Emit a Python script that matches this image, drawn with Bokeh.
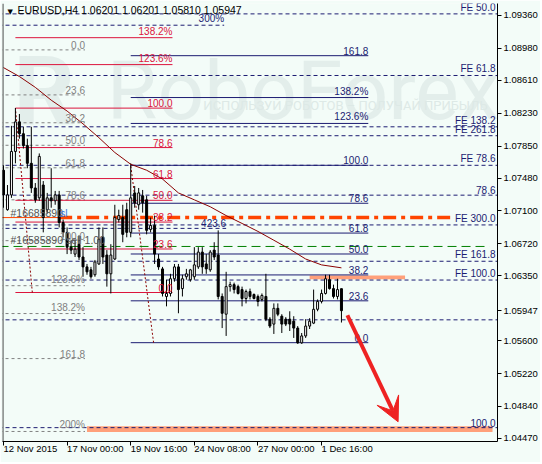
from bokeh.plotting import figure
from bokeh.models import (ColumnDataSource, FixedTicker, NumeralTickFormatter, Range1d,
                          Span, Arrow, VeeHead)
from bokeh.embed import file_html
from bokeh.resources import INLINE
from bokeh.core.properties import value

# ---------------- data ----------------
open_ = [1.07570, 1.07114, 1.07285, 1.07787, 1.08129, 1.07992, 1.07855, 1.07650, 1.07365, 1.07251,
         1.07399, 1.07114, 1.07251, 1.07217, 1.07285, 1.06966, 1.06852, 1.06681, 1.06601, 1.06715,
         1.06567, 1.06453, 1.06419, 1.06362, 1.06487, 1.06795, 1.06590, 1.06373, 1.06544, 1.07000,
         1.07023, 1.07114, 1.06852, 1.07308, 1.07171, 1.07274, 1.07228, 1.06886, 1.06932, 1.06544,
         1.06430, 1.06111, 1.06146, 1.06316, 1.06453, 1.06202, 1.06339, 1.06305, 1.06339, 1.06453,
         1.06624, 1.06487, 1.06419, 1.06647, 1.06590, 1.06111, 1.05906, 1.06225, 1.06248, 1.06225,
         1.06191, 1.06088, 1.06168, 1.06134, 1.06111, 1.06077, 1.06111, 1.05849, 1.05792, 1.05974,
         1.05883, 1.05849, 1.05849, 1.05826, 1.05746, 1.05575, 1.05655, 1.05769, 1.05803, 1.05963,
         1.06054, 1.06146, 1.06305, 1.06202, 1.06111, 1.06201]
high = [1.07627, 1.07399, 1.08083, 1.08288, 1.08220, 1.08072, 1.07935, 1.08072, 1.07422, 1.07764,
        1.07445, 1.07308, 1.07593, 1.07331, 1.07331, 1.07000, 1.06909, 1.06761, 1.06761, 1.06818,
        1.06681, 1.06487, 1.06453, 1.06533, 1.06909, 1.06909, 1.06647, 1.06715, 1.07171, 1.07114,
        1.07171, 1.07194, 1.07650, 1.07388, 1.07365, 1.07342, 1.07274, 1.07023, 1.07046, 1.06601,
        1.06453, 1.06305, 1.06373, 1.06487, 1.06487, 1.06362, 1.06430, 1.06430, 1.06681, 1.06681,
        1.06681, 1.06601, 1.06647, 1.06738, 1.06875, 1.06146, 1.06396, 1.06282, 1.06271, 1.06248,
        1.06225, 1.06191, 1.06202, 1.06146, 1.06134, 1.06146, 1.06373, 1.05872, 1.06031, 1.06031,
        1.05906, 1.05872, 1.05940, 1.05883, 1.05769, 1.05689, 1.05849, 1.05860, 1.06191, 1.06077,
        1.06191, 1.06362, 1.06362, 1.06248, 1.06316, 1.06201]
low = [1.07137, 1.07103, 1.07251, 1.07650, 1.07935, 1.07821, 1.07593, 1.07308, 1.07194, 1.07217,
       1.06852, 1.07069, 1.07137, 1.07171, 1.06909, 1.06795, 1.06601, 1.06601, 1.06567, 1.06533,
       1.06339, 1.06362, 1.06316, 1.06339, 1.06476, 1.06487, 1.06225, 1.06146, 1.06533, 1.06966,
       1.06738, 1.06795, 1.06795, 1.07137, 1.07114, 1.07080, 1.06829, 1.06852, 1.06487, 1.06419,
       1.06111, 1.05997, 1.06111, 1.06282, 1.05917, 1.06111, 1.06305, 1.06282, 1.06305, 1.06430,
       1.06373, 1.06373, 1.06396, 1.06533, 1.06077, 1.05746, 1.05655, 1.06168, 1.06146, 1.06134,
       1.05997, 1.06031, 1.06077, 1.06077, 1.05997, 1.06054, 1.05826, 1.05746, 1.05678, 1.05883,
       1.05689, 1.05769, 1.05712, 1.05632, 1.05564, 1.05564, 1.05632, 1.05735, 1.05792, 1.05940,
       1.06031, 1.06134, 1.06191, 1.06088, 1.06077, 1.05810]
close = [1.07285, 1.07285, 1.07787, 1.08129, 1.07992, 1.07855, 1.07650, 1.07365, 1.07228, 1.07730,
         1.07023, 1.07251, 1.07217, 1.07285, 1.06966, 1.06852, 1.06681, 1.06647, 1.06658, 1.06567,
         1.06453, 1.06396, 1.06339, 1.06510, 1.06772, 1.06567, 1.06373, 1.06590, 1.07023, 1.07046,
         1.06829, 1.06852, 1.07251, 1.07194, 1.07308, 1.07194, 1.06875, 1.06932, 1.06601, 1.06453,
         1.06146, 1.06146, 1.06316, 1.06453, 1.06191, 1.06316, 1.06373, 1.06419, 1.06476, 1.06624,
         1.06453, 1.06430, 1.06624, 1.06567, 1.06111, 1.05917, 1.06225, 1.06248, 1.06191, 1.06146,
         1.06088, 1.06168, 1.06111, 1.06088, 1.06054, 1.06123, 1.05849, 1.05769, 1.05974, 1.05906,
         1.05792, 1.05792, 1.05792, 1.05746, 1.05575, 1.05655, 1.05769, 1.05826, 1.05963, 1.06054,
         1.06146, 1.06316, 1.06202, 1.06111, 1.06191, 1.05947]

ma_bars = [0, 4, 8, 12, 16, 20, 24, 28, 32, 36, 40, 44, 48, 52, 56, 60, 64, 68, 72, 76, 80, 85]
ma_vals = [1.08756, 1.08653, 1.08528, 1.08380, 1.08254, 1.08106, 1.07946, 1.07775, 1.07639, 1.07570,
           1.07468, 1.07308, 1.07228, 1.07148, 1.07046, 1.06955, 1.06863, 1.06761, 1.06658, 1.06544,
           1.06476, 1.06442]

x_tick_bars = [0, 16, 32, 48, 64, 80]
x_tick_labels = ["12 Nov 2015", "17 Nov 00:00", "19 Nov 16:00", "24 Nov 08:00", "27 Nov 00:00", "1 Dec 16:00"]
y_ticks = [1.0936, 1.0898, 1.0861, 1.0823, 1.0785, 1.0748, 1.0710, 1.0672, 1.0635,
           1.0560, 1.0522, 1.0484, 1.0447]
last_price = 1.05947
title_text = "EURUSD,H4  1.06201 1.06201 1.05810 1.05947"

# Fibonacci retracements: anchor prices (0 % and 100 %), ratios, labels, bar span
gray_anchor = [1.08961, 1.06756]
gray_ratios = [0, 0.236, 0.382, 0.5, 0.618, 0.786, 1.0, 1.236, 1.382, 1.618, 2.0]
gray_texts = ["0.0", "23.6", "38.2", "50.0", "61.8", "78.6", "100.0", "123.6%", "138.2%", "161.8", "200%"]
gray_bars = [-1, 20.5]

red_anchor = [1.06157, 1.08288]
red_anchor_bars = [7.25, 3]
red_ratios = [0, 0.236, 0.382, 0.5, 0.618, 0.786, 1.0, 1.236, 1.382]
red_texts = ["0.0", "23.6", "38.2", "50.0", "61.8", "78.6", "100.0", "123.6%", "138.2%"]
red_bars = [3, 42.5]

navy_anchor = [1.05577, 1.07627]
navy_anchor_bars = [37.75, 32]
navy_ratios = [0, 0.236, 0.382, 0.5, 0.618, 0.786, 1.0, 1.236, 1.382, 1.618]
navy_texts = ["0.0", "23.6", "38.2", "50.0", "61.8", "78.6", "100.0", "123.6%", "138.2%", "161.8"]
navy_bars = [32, 91.75]

# Fibo expansion levels drawn across the chart
fe_prices = [1.09377, 1.08665, 1.08072, 1.07969, 1.07627, 1.07282, 1.06938, 1.06518, 1.06301, 1.05841, 1.04595]
fe_texts = ["FE 50.0", "FE 61.8", "FE 138.2", "FE 261.8", "FE 78.6", "78.6", "FE 300.0", "FE 161.8",
            "FE 100.0", "", "100.0"]
ext_prices = [1.09246, 1.06898]
ext_texts = ["300%", "423.6"]
ext_end_bars = [55.5, 56.0]

sl_price = 1.07023
sl_bars = [14, 112.5]
entry_price = 1.06689
entry_bars = [-1, 122.25]
order_texts = ["#16685890", "#16585890 sell 1.00"]
order_prices = [1.07072, 1.06761]

zone_bars = [[77, 101], [21, 123]]
zone_prices = [[1.06309, 1.06354], [1.04544, 1.04612]]

arrow_from = [86.5, 1.05894]
arrow_to = [99.25, 1.04663]

# ---------------- styling ----------------
X_MIN, X_MAX = -0.25, 124.25
Y_MIN, Y_MAX = 1.04435, 1.09497
BG = "#f3fcf8"
FONT = "Liberation Sans"
NAVY = "#1c1c72"
CRIMSON = "#dc143c"
GRAY = "#808080"
AXIS_PX = "9.5px"

p = figure(width=540, height=462, x_range=Range1d(X_MIN, X_MAX), y_range=Range1d(Y_MIN, Y_MAX),
           y_axis_location="right", output_backend="svg", toolbar_location=None,
           background_fill_color=BG, border_fill_color=BG, outline_line_color=None,
           min_border_left=2, min_border_top=3, min_border_right=0, min_border_bottom=0)
p.xgrid.visible = False
p.ygrid.visible = False

xa = p.xaxis[0]
xa.ticker = FixedTicker(ticks=x_tick_bars)
xa.major_label_overrides = {b: s for b, s in zip(x_tick_bars, x_tick_labels)}
# a tiny negative angle makes Bokeh anchor each date at its left end (MT4 style)
xa.major_label_orientation = -0.0001
xa.major_label_standoff = 3
ya = p.yaxis[0]
ya.ticker = FixedTicker(ticks=y_ticks + [last_price])
ya.formatter = NumeralTickFormatter(format="0.00000")
ya.major_label_standoff = 2
for ax in (xa, ya):
    ax.axis_line_color = "black"
    ax.major_tick_line_color = "black"
    ax.major_tick_out = 4
    ax.major_tick_in = 0
    ax.minor_tick_out = 0
    ax.minor_tick_in = 0
    ax.major_label_text_font = FONT
    ax.major_label_text_font_size = AXIS_PX
    ax.major_label_text_color = "black"

# watermark
p.text(x=[26.0], y=[1.08490], text=["RoboForex"], text_font=value("Roboto"), text_font_size="82px",
       text_color="#e3eeeb", text_baseline="alphabetic")
p.text(x=[2.5], y=[1.08490], text=["R"], text_font=value("Roboto"), text_font_size="96px",
       text_color="#e3eeeb", text_baseline="alphabetic", text_font_style="bold")
p.text(x=[121.75], y=[1.08323], text=["ИСПОЛЬЗУЙ РОБОТОВ – ПОЛУЧАЙ ПРИБЫЛЬ"], text_font=value("Roboto"),
       text_font_size="13px", text_color="#dde9e6", text_align="right", text_baseline="middle")

# zones
for (b0, b1), (q0, q1) in zip(zone_bars, zone_prices):
    p.quad(left=[b0], right=[b1], bottom=[q0], top=[q1], fill_color="#ffa07a", line_color=None)

def fib(anchor, ratios):
    return [anchor[0] + r * (anchor[1] - anchor[0]) for r in ratios]

gray_levels = fib(gray_anchor, gray_ratios)
red_levels = fib(red_anchor, red_ratios)
navy_levels = fib(navy_anchor, navy_ratios)

def level_lines(levels, bars, color, dash, width=1):
    src = ColumnDataSource(dict(x0=[bars[0]] * len(levels), x1=[bars[1]] * len(levels), y=levels))
    p.segment(x0="x0", y0="y", x1="x1", y1="y", source=src, line_color=color, line_dash=dash,
              line_width=width)

level_lines(fe_prices, [X_MIN - 1, X_MAX + 1], NAVY, "4 3")
p.segment(x0=[X_MIN - 1] * 2, y0=ext_prices, x1=ext_end_bars, y1=ext_prices, line_color=NAVY, line_dash="4 3")
level_lines(gray_levels, gray_bars, GRAY, "3 3")
level_lines(red_levels, red_bars, CRIMSON, "solid")
level_lines(navy_levels, navy_bars, NAVY, "solid")
p.line(x=red_anchor_bars, y=red_anchor, line_color="#8b0000", line_dash="2 2")
p.line(x=navy_anchor_bars, y=navy_anchor, line_color="#8b0000", line_dash="2 2")

# order lines
p.segment(x0=[X_MIN - 1], y0=[sl_price], x1=[sl_bars[0]], y1=[sl_price], line_color="#ff4500", line_width=1)
p.segment(x0=[sl_bars[0]], y0=[sl_price], x1=[sl_bars[1]], y1=[sl_price], line_color="#ff4500",
          line_width=3.5, line_dash="13 5 4 5")
p.segment(x0=[entry_bars[0]], y0=[entry_price], x1=[entry_bars[1]], y1=[entry_price],
          line_color="#008000", line_width=1, line_dash="9 5")

# candles
n = len(open_)
bull = [c >= o for o, c in zip(open_, close)]
csrc = ColumnDataSource(dict(
    x=list(range(n)), h=high, l=low,
    top=[max(o, c) for o, c in zip(open_, close)],
    bottom=[min(o, c) for o, c in zip(open_, close)],
    fill=["white" if b else "black" for b in bull]))
p.segment(x0="x", y0="l", x1="x", y1="h", source=csrc, line_color="black", line_width=1)
p.vbar(x="x", width=0.5, top="top", bottom="bottom", source=csrc, fill_color="fill",
       line_color="black", line_width=1)

# moving average
p.line(x=ma_bars, y=ma_vals, line_color="#8b0000", line_width=1)

# labels
def level_texts(levels, texts, xpos, color):
    src = ColumnDataSource(dict(x=[xpos] * len(levels), y=levels, t=texts))
    p.text(x="x", y="y", text="t", source=src, text_align="right", text_baseline="bottom",
           text_font=value(FONT), text_font_size="10px", text_color=color, y_offset=-1)

level_texts(gray_levels, gray_texts, gray_bars[1], GRAY)
level_texts(red_levels, red_texts, red_bars[1], CRIMSON)
level_texts(navy_levels, navy_texts, navy_bars[1], NAVY)
src_fe = ColumnDataSource(dict(x=[X_MAX] * len(fe_prices), y=fe_prices, t=fe_texts))
p.text(x="x", y="y", text="t", source=src_fe, text_align="right", text_baseline="bottom",
       text_font=value(FONT), text_font_size="10px", text_color=NAVY, x_offset=-2, y_offset=-1)
src_ext = ColumnDataSource(dict(x=ext_end_bars, y=ext_prices, t=ext_texts))
p.text(x="x", y="y", text="t", source=src_ext, text_align="right", text_baseline="bottom",
       text_font=value(FONT), text_font_size="10px", text_color=NAVY, y_offset=-1)

# order labels
p.text(x=[1.75] * 2, y=order_prices, text=order_texts, text_font=value(FONT), text_font_size="10.5px",
       text_color="#555555", text_baseline="middle")
p.text(x=[14.2], y=[order_prices[0]], text=["sl"], text_font=value(FONT), text_font_size="10.5px",
       text_color="#3c78d8", text_baseline="middle")

# title
p.text(x=[X_MIN], y=[Y_MAX], text=["▼"], text_font=value("DejaVu Sans"), text_font_size="7px",
       text_color="black", text_baseline="top", x_offset=5, y_offset=4)
p.text(x=[X_MIN], y=[Y_MAX], text=[title_text], text_font=value(FONT), text_font_size="10.5px",
       text_color="black", text_baseline="top", x_offset=15, y_offset=0)

# arrow
red = "#ee2222"
p.add_layout(Arrow(end=VeeHead(size=24, fill_color=red, line_color=red),
                   x_start=arrow_from[0], y_start=arrow_from[1], x_end=arrow_to[0], y_end=arrow_to[1],
                   line_color=red, line_width=4))

# frame left line
p.add_layout(Span(location=X_MIN + 0.1, dimension="height", line_color="black", line_width=1))

open("out.html", "w").write(file_html(p, INLINE))
